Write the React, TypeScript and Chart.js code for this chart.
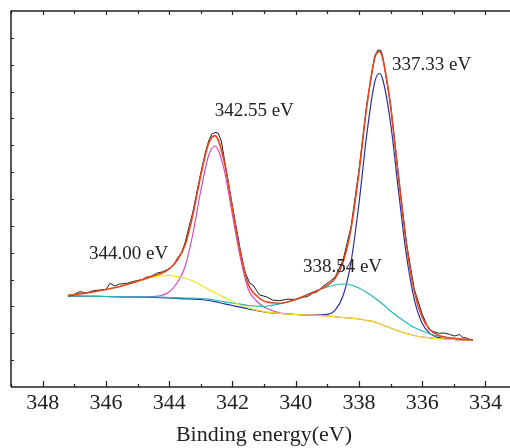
import React, { useEffect, useRef } from "react";
import { Chart, registerables } from "chart.js";

Chart.register(...registerables);

// Binding energy grid (eV) shared by the fitted envelope and the components
const energy = [
  347.2, 347.0, 346.5, 346.0, 345.5, 345.0, 344.5, 344.25, 344.0, 343.75, 343.5,
  343.25, 343.0, 342.75, 342.55, 342.25, 342.0, 341.75, 341.5, 341.25, 341.0,
  340.75, 340.5, 340.0, 339.5, 339.0, 338.75, 338.5, 338.25, 338.0, 337.75,
  337.5, 337.35, 337.25, 337.0, 336.75, 336.5, 336.25, 336.0, 335.75, 335.5,
  335.0, 334.4,
];

// Fitted envelope (red)
const envelopeFit = [
  91.5, 92.5, 94.5, 97.5, 101, 105.7, 111.1, 113.5, 118, 126.5, 141.6,
  172, 211.5, 243.8, 251.4, 224.3, 178.9, 134.8, 102.7, 91.7, 85.9,
  84.2, 83.8, 87.5, 94, 101.6, 108.6, 124.7, 157.9, 213.5, 280.5,
  328.8, 335.5, 329, 281.7, 210.8, 143.5, 95.8, 69.7, 57.2, 52.1,
  48.6, 47,
];

// Component 344.00 eV (yellow)
const peak34400 = [
  91.5, 92.5, 94.5, 97.5, 101, 105.5, 110, 111, 111.5, 110.5, 109,
  106, 102, 97.5, 94, 89.5, 85.5, 82, 79.2, 77.2, 75.4,
  74.4, 73.6, 72.5, 72, 71, 70.2, 69.5, 68.8, 68, 66.5,
  65, 63.5, 62, 59, 56, 53.5, 51.5, 50, 49.2, 48.5,
  47.5, 47,
];

// Component 342.55 eV (magenta)
const peak34255 = [
  91, 90.9, 90.7, 90.5, 90.2, 90, 90.5, 91.5, 95, 104, 120,
  153, 196, 231.5, 241, 216, 172.4, 129.6, 98, 86.5, 80,
  76.5, 74.2, 72.5, 72, 71, 70.2, 69.5, 68.8, 68, 66.5,
  65, 63.5, 62, 59, 56, 53.5, 51.5, 50, 49.2, 48.5,
  47.5, 47,
];

// Component 338.54 eV (cyan)
const peak33854 = [
  91, 90.9, 90.7, 90.5, 90.3, 90.2, 90, 89.8, 89.5, 89.2, 89,
  88.8, 88.5, 87.8, 87, 85.2, 84, 82.8, 81.5, 81, 80.5,
  81.7, 83, 87.5, 94, 100, 102, 103, 102, 99, 94.5,
  89, 85.5, 83, 76, 70, 64.5, 59.5, 56, 53, 51,
  48.5, 47,
];

// Component 337.33 eV (blue)
const peak33733 = [
  91, 90.9, 90.7, 90.5, 90.2, 90, 89.7, 89.4, 89, 88.6, 88.2,
  87.9, 87.5, 86.5, 85.3, 83.2, 81.5, 79.8, 78, 76.5, 75,
  74.2, 73.5, 72.5, 72, 72.6, 76.8, 91.2, 124.7, 182.5, 252.5,
  304.8, 313.5, 308, 264.7, 196.8, 132.5, 87.8, 63.7, 53.4, 49.6,
  47.6, 47,
];

// Measured spectrum (black)
const rawEnergy = [
  347.2, 347.03, 346.92, 346.82, 346.61, 346.4, 346.19, 346.0, 345.87, 345.72,
  345.56, 345.35, 345.2, 345.03, 344.85, 344.72, 344.55, 344.4, 344.2, 344.05,
  343.88, 343.75, 343.6, 343.5, 343.25, 343.0, 342.85, 342.75, 342.65, 342.55,
  342.45, 342.35, 342.25, 342.0, 341.75, 341.6, 341.45, 341.35, 341.14, 340.93,
  340.73, 340.51, 340.29, 339.98, 339.78, 339.62, 339.46, 339.31, 339.15, 338.93,
  338.75, 338.5, 338.25, 338.0, 337.75, 337.5, 337.4, 337.3, 337.25, 337.0,
  336.75, 336.5, 336.25, 336.0, 335.85, 335.77, 335.56, 335.45, 335.3, 335.14,
  334.98, 334.82, 334.72, 334.6, 334.51, 334.4,
];
const rawCounts = [
  91, 92, 94, 95.3, 94, 96.3, 97, 97.5, 103.7, 101,
  103, 103.5, 105, 106.3, 107.5, 109.7, 111, 113.7, 115.3, 117.5,
  121, 128, 135, 144, 175, 214, 235, 246, 253, 254.5,
  254, 246, 227, 181, 137, 115, 103.7, 102, 92, 90.3,
  87, 86.3, 87.7, 87.7, 89.7, 90.5, 93.7, 95.3, 100.3, 105.3,
  110, 127, 160, 216, 283, 331, 337, 336.5, 331, 283,
  212, 145, 98, 73, 62, 57, 54.5, 53.7, 54, 52.7,
  51, 52.5, 49.7, 49, 47.7, 47,
];

const xMin = 333;
const xMax = 349;
const yMax = 376;
const yTickCount = 14;
const xTickLabels = [348, 346, 344, 342, 340, 338, 336, 334];

const peakLabels = ["344.00 eV", "342.55 eV", "338.54 eV", "337.33 eV"];
const peakLabelX = [346.53, 342.56, 339.77, 336.95];
const peakLabelY = [127.7, 271, 115.3, 317];

const FONT = '"Liberation Serif", "Times New Roman", serif';

const toPoints = (xs: number[], ys: number[]) => xs.map((x, i) => ({ x, y: ys[i] }));

const framePlugin = {
  id: "frameTicks",
  afterDraw(chart: any) {
    const { ctx, chartArea: a } = chart;
    const x = chart.scales.x;
    const y = chart.scales.y;
    ctx.save();
    ctx.strokeStyle = "#222";
    ctx.lineWidth = 1.5;
    ctx.beginPath();
    ctx.moveTo(a.left, a.bottom);
    ctx.lineTo(a.left, a.top);
    ctx.lineTo(a.right + 5, a.top);
    ctx.moveTo(a.left, a.bottom);
    ctx.lineTo(a.right + 5, a.bottom);
    ctx.stroke();

    ctx.lineWidth = 1.2;
    ctx.beginPath();
    x.ticks.forEach((t: any) => {
      const px = Math.round(x.getPixelForValue(t.value)) + 0.5;
      const major = xTickLabels.includes(t.value);
      ctx.moveTo(px, a.bottom);
      ctx.lineTo(px, a.bottom - (major ? 6 : 3));
      ctx.moveTo(px, a.top);
      ctx.lineTo(px, a.top + (major ? 4 : 3));
    });
    for (let i = 1; i < yTickCount; i++) {
      const py = Math.round(y.getPixelForValue((yMax * i) / yTickCount)) + 0.5;
      ctx.moveTo(a.left, py);
      ctx.lineTo(a.left + 3, py);
    }
    ctx.stroke();

    ctx.fillStyle = "#222";
    ctx.font = `19px ${FONT}`;
    ctx.textAlign = "left";
    ctx.textBaseline = "alphabetic";
    peakLabels.forEach((txt, i) => {
      ctx.fillText(txt, x.getPixelForValue(peakLabelX[i]), y.getPixelForValue(peakLabelY[i]));
    });
    ctx.restore();
  },
};

export default function App() {
  const canvasRef = useRef<HTMLCanvasElement | null>(null);

  useEffect(() => {
    const canvas = canvasRef.current;
    if (!canvas) return;
    const line = (label: string, data: any, color: string, width: number, smooth: boolean) => ({
      label,
      data,
      borderColor: color,
      backgroundColor: color,
      borderWidth: width,
      pointRadius: 0,
      fill: false,
      cubicInterpolationMode: smooth ? "monotone" : "default",
      tension: 0,
    });
    const chart = new Chart(canvas, {
      type: "line",
      data: {
        datasets: [
          line("Fit", toPoints(energy, envelopeFit), "#e8461e", 1.6, true),
          line("Raw", toPoints(rawEnergy, rawCounts), "#1e1e1e", 1, false),
          line("344.00 eV", toPoints(energy, peak34400), "#f2e31c", 1.2, true),
          line("338.54 eV", toPoints(energy, peak33854), "#1fb6b8", 1.2, true),
          line("342.55 eV", toPoints(energy, peak34255), "#d24db8", 1.2, true),
          line("337.33 eV", toPoints(energy, peak33733), "#2b3196", 1.2, true),
        ] as any,
      },
      options: {
        responsive: false,
        animation: false,
        devicePixelRatio: 1,
        layout: { padding: { left: 11, top: 11, right: 2.3, bottom: 0 } },
        plugins: { legend: { display: false }, tooltip: { enabled: false } },
        scales: {
          x: {
            type: "linear",
            reverse: true,
            min: xMin,
            max: xMax,
            grid: { display: false, drawTicks: false },
            border: { display: false },
            ticks: {
              stepSize: 1,
              autoSkip: false,
              maxRotation: 0,
              padding: 3,
              color: "#222",
              font: { family: FONT, size: 22 },
              callback: (v: any) => (xTickLabels.includes(Number(v)) ? String(v) : ""),
            },
            title: {
              display: true,
              text: "Binding energy(eV)",
              color: "#222",
              font: { family: FONT, size: 22 },
              padding: { top: 0, bottom: 0 },
            },
            afterFit: (s: any) => {
              s.height = 61;
            },
          },
          y: {
            type: "linear",
            display: false,
            min: 0,
            max: yMax,
          },
        },
      },
      plugins: [framePlugin],
    });
    return () => chart.destroy();
  }, []);

  return (
    <div style={{ position: "absolute", left: 0, top: 0, width: 510, height: 448, overflow: "hidden", background: "#fff" }}>
      <canvas ref={canvasRef} width={520} height={448} style={{ display: "block" }} />
    </div>
  );
}
